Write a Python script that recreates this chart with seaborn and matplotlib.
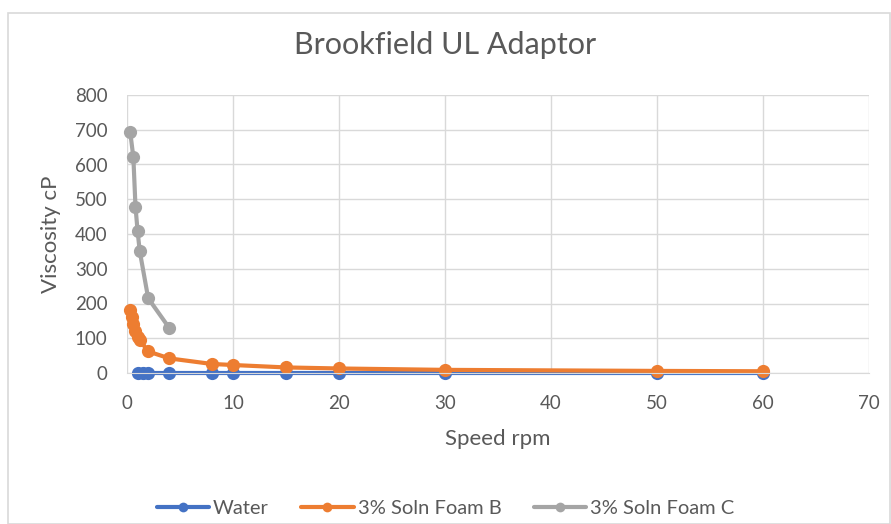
import matplotlib
matplotlib.use("Agg")
import matplotlib.pyplot as plt
import seaborn as sns
import pandas as pd
from matplotlib.patches import Rectangle

# Data
water_rpm = [1, 1.5, 2, 4, 8, 10, 15, 20, 30, 50, 60]
water_cp = [1, 1, 1, 1, 1, 1, 1, 1, 1, 1, 1]

foam_b_rpm = [0.3, 0.5, 0.6, 0.75, 1.0, 1.2, 2, 4, 8, 10, 15, 20, 30, 50, 60]
foam_b_cp = [180, 160, 140, 122, 105, 95, 62, 42, 26, 23, 16, 13, 9, 6, 5]

foam_c_rpm = [0.3, 0.6, 0.8, 1.0, 1.2, 2, 4]
foam_c_cp = [694, 621, 479, 408, 351, 215, 129]

series_names = ["Water", "3% Soln Foam B", "3% Soln Foam C"]
colors = ["#4472C4", "#ED7D31", "#A5A5A5"]

x_ticks = [0, 10, 20, 30, 40, 50, 60, 70]
y_ticks = [0, 100, 200, 300, 400, 500, 600, 700, 800]

df = pd.concat([
    pd.DataFrame({"rpm": water_rpm, "cp": water_cp, "series": series_names[0]}),
    pd.DataFrame({"rpm": foam_b_rpm, "cp": foam_b_cp, "series": series_names[1]}),
    pd.DataFrame({"rpm": foam_c_rpm, "cp": foam_c_cp, "series": series_names[2]}),
], ignore_index=True)

sns.set_style("white")
plt.rcParams["font.family"] = ["Lato", "DejaVu Sans"]

fig = plt.figure(figsize=(8.91, 5.24), dpi=100)
ax = fig.add_axes([127 / 891, (524 - 373) / 524, (869 - 127) / 891, (373 - 95) / 524])

sns.lineplot(data=df, x="rpm", y="cp", hue="series", hue_order=series_names,
             palette=colors, marker="o", markersize=9.5, markeredgewidth=0,
             linewidth=3, sort=True, estimator=None, ax=ax, legend=True,
             clip_on=False)

ax.set_xlim(0, 70)
ax.set_ylim(0, 800)
ax.set_xticks(x_ticks)
ax.set_yticks(y_ticks)
ax.grid(True, color="#D9D9D9", linewidth=1.0)
ax.set_axisbelow(True)
for s in ["top", "right", "left"]:
    ax.spines[s].set_visible(False)
ax.spines["bottom"].set_color("#D9D9D9")
ax.tick_params(axis="both", length=0, colors="#595959", labelsize=13.5)
ax.tick_params(axis="x", pad=16)
ax.tick_params(axis="y", pad=14)

ax.set_xlabel("Speed rpm", color="#595959", fontsize=16, labelpad=12)
ax.set_ylabel("Viscosity cP", color="#595959", fontsize=16, labelpad=10)
fig.text(0.5, 1 - 45 / 524, "Brookfield UL Adaptor", ha="center", va="center",
         color="#595959", fontsize=22)

handles, labels = ax.get_legend_handles_labels()
for h in handles:
    h.set_markersize(7)
ax.legend(handles, labels, loc="center", bbox_to_anchor=(0.5, 1 - 508 / 524),
          bbox_transform=fig.transFigure, ncol=3, frameon=False,
          fontsize=14.5, labelcolor="#595959", handlelength=2.6, columnspacing=1.6,
          handletextpad=0.2)

fig.patches.append(Rectangle((8 / 891, 0), 1 - 9 / 891, 1 - 13 / 524,
                             transform=fig.transFigure, fill=False,
                             edgecolor="#D9D9D9", linewidth=1.2))

fig.savefig("out.png", dpi=100)
